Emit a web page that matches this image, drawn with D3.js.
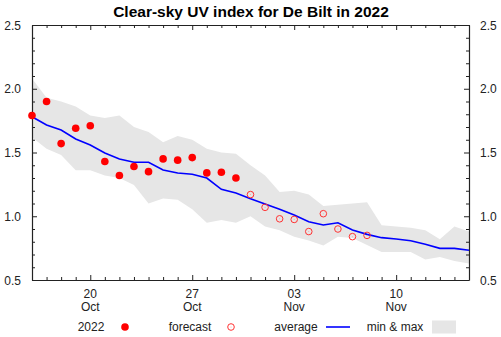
<!DOCTYPE html>
<html>
<head>
<meta charset="utf-8">
<script src="https://cdn.jsdelivr.net/npm/d3@7"></script>
<style>
  body { margin: 0; background: #fff; }
  svg { display: block; font-family: "Liberation Sans", Arial, Helvetica, sans-serif; }
</style>
</head>
<body>
<script>
// days shown on the x axis, 16 Oct .. 15 Nov 2022
var days = ["2022-10-16","2022-10-17","2022-10-18","2022-10-19","2022-10-20","2022-10-21","2022-10-22",
  "2022-10-23","2022-10-24","2022-10-25","2022-10-26","2022-10-27","2022-10-28","2022-10-29",
  "2022-10-30","2022-10-31","2022-11-01","2022-11-02","2022-11-03","2022-11-04","2022-11-05",
  "2022-11-06","2022-11-07","2022-11-08","2022-11-09","2022-11-10","2022-11-11","2022-11-12",
  "2022-11-13","2022-11-14","2022-11-15"];
var average = [1.78,1.716,1.676,1.606,1.559,1.496,1.449,1.423,1.423,1.363,1.339,1.329,1.30,1.211,
  1.182,1.138,1.096,1.055,1.01,0.957,0.931,0.949,0.892,0.858,0.832,0.822,0.808,0.78,0.748,0.748,0.733];
var maxVals = [2.08,1.93,1.90,1.86,1.79,1.77,1.79,1.70,1.66,1.58,1.63,1.60,1.53,1.50,1.49,1.40,
  1.32,1.19,1.20,1.17,1.08,1.09,1.10,1.11,0.93,0.92,0.91,0.89,0.82,0.92,0.88];
var minVals = [1.62,1.53,1.48,1.36,1.36,1.32,1.30,1.245,1.10,1.14,1.13,1.055,0.95,0.97,0.95,1.00,
  0.92,0.89,0.84,0.81,0.77,0.84,0.83,0.775,0.72,0.72,0.72,0.66,0.68,0.65,0.63];

// measured 2022 values (16 Oct .. 30 Oct)
var obsDays = days.slice(0, 15);
var obs2022 = [1.79,1.90,1.57,1.69,1.71,1.43,1.32,1.39,1.35,1.45,1.44,1.46,1.34,1.345,1.30];
// forecast (31 Oct .. 8 Nov)
var fcDays = days.slice(15, 24);
var forecast = [1.17,1.07,0.98,0.975,0.88,1.02,0.90,0.84,0.85];

var yTicks = [0.5, 1.0, 1.5, 2.0, 2.5];
var legendLabels = ["2022", "forecast", "average", "min & max"];

var W = 501, H = 337;
var pLeft = 32, pRight = 469, pTop = 25, pBottom = 280;
var parse = d3.timeParse("%Y-%m-%d");

var x = d3.scaleTime()
  .domain([parse(days[0]), parse(days[days.length - 1])])
  .range([pLeft, pRight]);
var y = d3.scaleLinear().domain([0.5, 2.5]).range([pBottom, pTop]);

var svg = d3.select("body").append("svg").attr("width", W).attr("height", H);

svg.append("text")
  .attr("x", 251).attr("y", 17)
  .attr("text-anchor", "middle")
  .style("font-size", "15.5px").style("font-weight", "bold")
  .text("Clear-sky UV index for De Bilt in 2022");

// min & max band
var band = days.map(function(d, i) { return {d: parse(d), lo: minVals[i], hi: maxVals[i]}; });
svg.append("path")
  .datum(band)
  .attr("fill", "#e6e6e6")
  .attr("d", d3.area().x(function(p) { return x(p.d); })
    .y0(function(p) { return y(p.lo); }).y1(function(p) { return y(p.hi); }));

// average line
svg.append("path")
  .datum(days.map(function(d, i) { return [parse(d), average[i]]; }))
  .attr("fill", "none").attr("stroke", "#0000ff").attr("stroke-width", 1.6)
  .attr("d", d3.line().x(function(p) { return x(p[0]); }).y(function(p) { return y(p[1]); }));

// axes, ticks inward on all four sides
var dayTicks = d3.timeDay.range(parse(days[0]), d3.timeDay.offset(parse(days[days.length - 1]), 1));
var majorDays = ["2022-10-20", "2022-10-27", "2022-11-03", "2022-11-10"].map(parse);
var isMajor = function(t) { return majorDays.some(function(m) { return +m === +t; }); };

var xb = svg.append("g").attr("transform", "translate(0," + pBottom + ")")
  .call(d3.axisBottom(x).tickValues(dayTicks).tickSize(0).tickFormat(""));
var xt = svg.append("g").attr("transform", "translate(0," + pTop + ")")
  .call(d3.axisTop(x).tickValues(dayTicks).tickSize(0).tickFormat(""));
xb.selectAll(".tick line").attr("y2", function(t) { return isMajor(t) ? -5 : -3; });
xt.selectAll(".tick line").attr("y2", function(t) { return isMajor(t) ? 5 : 3; });

var yMinor = d3.range(5, 26).map(function(v) { return v / 10; });
var isMajorY = function(v) { return yTicks.some(function(m) { return Math.abs(m - v) < 1e-6; }); };
var yl = svg.append("g").attr("transform", "translate(" + pLeft + ",0)")
  .call(d3.axisLeft(y).tickValues(yMinor).tickSize(0).tickFormat(""));
var yr = svg.append("g").attr("transform", "translate(" + pRight + ",0)")
  .call(d3.axisRight(y).tickValues(yMinor).tickSize(0).tickFormat(""));
yl.selectAll(".tick line").attr("x2", function(v) { return isMajorY(v) ? 5 : 3; });
yr.selectAll(".tick line").attr("x2", function(v) { return isMajorY(v) ? -5 : -3; });

svg.selectAll(".domain").attr("stroke", "#222").attr("stroke-width", 1.2);
svg.selectAll(".tick line").attr("stroke", "#222");

// tick labels
var fmt = d3.format(".1f");
svg.selectAll(".ylab-l").data(yTicks).enter().append("text")
  .attr("x", 21).attr("y", function(v) { return y(v) + 4.5; })
  .attr("text-anchor", "end").style("font-size", "12px").attr("fill", "#222")
  .text(fmt);
svg.selectAll(".ylab-r").data(yTicks).enter().append("text")
  .attr("x", 480).attr("y", function(v) { return y(v) + 4.5; })
  .style("font-size", "12px").attr("fill", "#222")
  .text(fmt);
var xl = svg.selectAll(".xlab").data(majorDays).enter().append("text")
  .attr("text-anchor", "middle").style("font-size", "12px").attr("fill", "#222");
xl.append("tspan").attr("x", function(t) { return x(t); }).attr("y", 298).text(d3.timeFormat("%d"));
xl.append("tspan").attr("x", function(t) { return x(t); }).attr("y", 311).text(d3.timeFormat("%b"));

// points
svg.selectAll(".obs").data(obs2022).enter().append("circle")
  .attr("cx", function(v, i) { return x(parse(obsDays[i])); })
  .attr("cy", function(v) { return y(v); })
  .attr("r", 3.8).attr("fill", "#ff0000");
svg.selectAll(".fc").data(forecast).enter().append("circle")
  .attr("cx", function(v, i) { return x(parse(fcDays[i])); })
  .attr("cy", function(v) { return y(v); })
  .attr("r", 3.3).attr("fill", "none").attr("stroke", "#f33").attr("stroke-width", 1);
svg.selectAll(".fcdot").data(forecast).enter().append("circle")
  .attr("cx", function(v, i) { return x(parse(fcDays[i])); })
  .attr("cy", function(v) { return y(v); })
  .attr("r", 0.5).attr("fill", "#f99");

// legend
var ly = 327;
var lg = svg.append("g").style("font-size", "12px").attr("fill", "#222");
var textX = [91, 190, 296, 395];
lg.selectAll("text").data(legendLabels).enter().append("text")
  .attr("x", function(d, i) { return textX[i]; }).attr("y", ly + 4)
  .attr("text-anchor", "middle").text(function(d) { return d; });
lg.append("circle").attr("cx", 125).attr("cy", ly).attr("r", 3.8).attr("fill", "#ff0000");
lg.append("circle").attr("cx", 231).attr("cy", ly).attr("r", 3.3)
  .attr("fill", "none").attr("stroke", "#f33");
lg.append("circle").attr("cx", 231).attr("cy", ly).attr("r", 0.5).attr("fill", "#f99");
lg.append("line").attr("x1", 326).attr("x2", 350).attr("y1", ly).attr("y2", ly)
  .attr("stroke", "#0000ff").attr("stroke-width", 1.6);
lg.append("rect").attr("x", 432).attr("y", 320.5).attr("width", 24).attr("height", 13)
  .attr("fill", "#e6e6e6");
</script>
</body>
</html>
